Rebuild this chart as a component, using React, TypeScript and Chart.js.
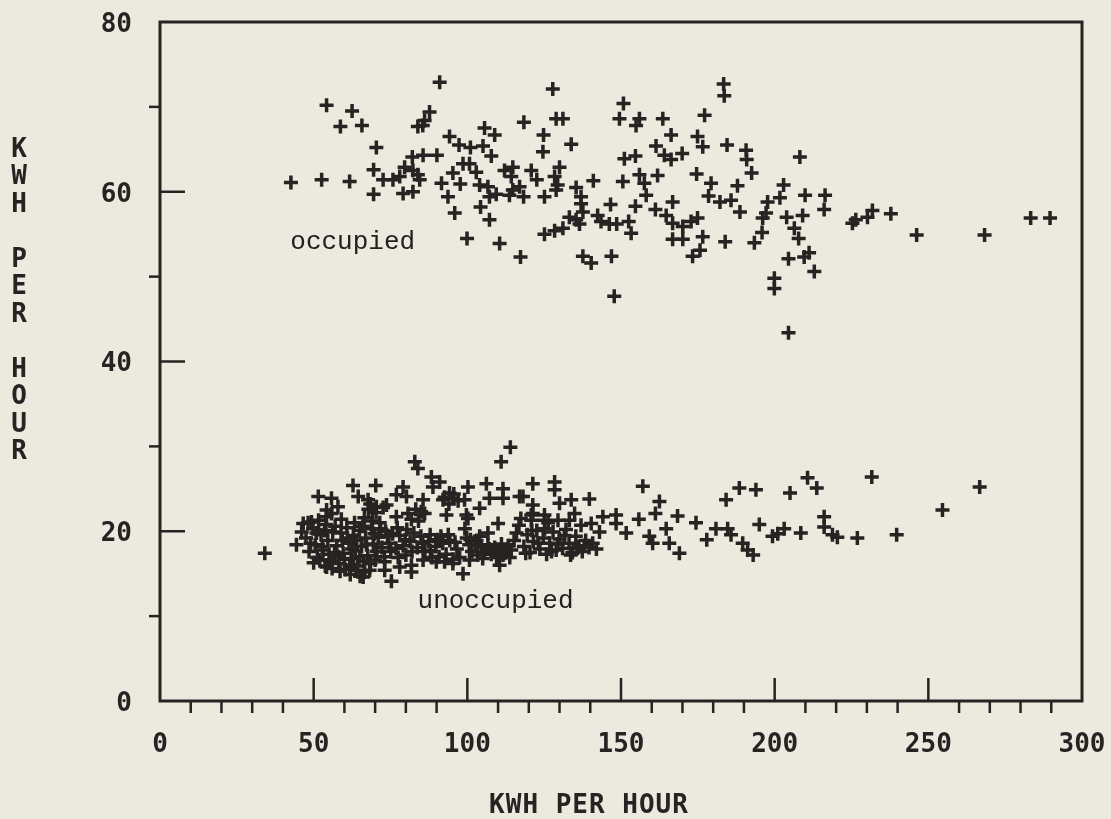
import React, { useEffect, useRef } from "react";
import { Chart, registerables } from "chart.js";

Chart.register(...registerables);

const BG = "#ECE9DF";
const INK = "#262422";

const xTickValues = [0, 50, 100, 150, 200, 250, 300];
const yTickValues = [0, 20, 40, 60, 80];
const xMinorTicks = [10, 20, 30, 40, 60, 70, 80, 90, 110, 120, 130, 140, 160, 170, 180, 190, 210, 220, 230, 240, 260, 270, 280, 290];
const xMajorTicks = [50, 100, 150, 200, 250];
const yMinorTicks = [10, 30, 50, 70];
const yMajorTicks = [20, 40, 60];

const xTitle = "KWH PER HOUR";
const yTitle = "KWH PER HOUR";

const groupLabels = ["occupied", "unoccupied"];
const groupLabelX = [42.4, 83.8];
const groupLabelY = [54.1, 11.8];

const occupied: [number, number][] = [
  [91.0, 72.9], [54.2, 70.2], [62.5, 69.5], [58.7, 67.7], [65.7, 67.8], [87.7, 69.4], [86.1, 68.4], [83.9, 67.7],
  [85.5, 67.8], [70.4, 65.2], [42.6, 61.1], [52.6, 61.4], [61.7, 61.2], [69.5, 62.6], [69.5, 59.7], [72.6, 61.4],
  [75.8, 61.4], [78.0, 61.8], [82.1, 64.1], [85.6, 64.3], [90.1, 64.3], [79.6, 62.9], [82.3, 62.5], [83.9, 62.0],
  [84.5, 61.4], [79.1, 59.8], [82.3, 60.0], [94.2, 66.5], [97.3, 65.5], [101.0, 65.2], [105.1, 65.4], [105.6, 67.5],
  [108.9, 66.7], [107.8, 64.2], [98.6, 63.3], [100.7, 63.3], [102.9, 62.3], [95.3, 62.2], [91.6, 61.0], [97.7, 60.9],
  [93.7, 59.4], [95.9, 57.5], [104.0, 60.8], [106.7, 60.6], [107.2, 59.4], [109.4, 59.7], [104.3, 58.2], [107.2, 56.7],
  [99.9, 54.5], [110.5, 53.9], [117.3, 52.3], [118.4, 68.2], [112.1, 62.5], [114.8, 62.9], [114.3, 61.8], [120.8, 62.5],
  [122.6, 61.4], [114.8, 60.2], [117.0, 60.6], [113.7, 59.6], [118.3, 59.4], [124.8, 66.7], [124.6, 64.7], [125.1, 59.4],
  [125.1, 55.0], [127.8, 72.1], [128.9, 68.6], [131.1, 68.6], [133.8, 65.6], [130.0, 62.9], [128.4, 61.8], [129.4, 60.8],
  [128.9, 60.2], [135.4, 60.5], [137.0, 59.4], [137.0, 58.6], [137.6, 57.6], [141.0, 61.3], [133.2, 57.0], [135.4, 56.7],
  [136.5, 56.2], [128.4, 55.4], [131.1, 55.7], [137.6, 52.4], [140.3, 51.6], [146.9, 52.4], [147.8, 47.7], [150.8, 70.4],
  [149.5, 68.6], [156.0, 68.6], [154.9, 67.8], [163.6, 68.6], [166.3, 66.7], [151.1, 63.9], [154.7, 64.2], [146.6, 58.5],
  [150.6, 61.2], [156.0, 62.0], [157.6, 61.0], [158.2, 59.6], [161.9, 61.9], [142.4, 57.2], [143.5, 56.5], [146.2, 56.2],
  [148.6, 56.2], [152.5, 56.5], [153.3, 55.1], [154.7, 58.3], [161.2, 57.9], [161.4, 65.4], [164.1, 64.3], [166.3, 63.8],
  [169.9, 64.5], [166.8, 58.8], [164.7, 57.2], [166.8, 56.3], [170.1, 55.9], [172.8, 56.5], [174.9, 56.9], [166.8, 54.4],
  [170.1, 54.4], [176.6, 54.7], [173.3, 52.4], [175.7, 53.1], [174.6, 62.1], [174.9, 66.5], [176.6, 65.3], [177.2, 69.0],
  [183.4, 72.7], [183.6, 71.3], [184.5, 65.5], [179.3, 61.0], [178.5, 59.5], [182.2, 58.8], [185.8, 59.0], [187.9, 60.7],
  [190.7, 64.9], [190.9, 63.8], [192.5, 62.2], [188.7, 57.6], [183.9, 54.1], [193.4, 54.0], [195.9, 55.2], [197.7, 58.8],
  [197.2, 57.5], [196.1, 56.9], [202.9, 60.8], [201.7, 59.3], [208.2, 64.1], [209.9, 59.6], [216.4, 59.6], [216.1, 57.9],
  [203.9, 57.0], [209.1, 57.2], [206.4, 55.7], [207.8, 54.5], [199.9, 49.8], [199.9, 48.6], [204.5, 52.1], [209.6, 52.3],
  [211.2, 52.8], [212.9, 50.6], [204.5, 43.4], [225.3, 56.3], [226.4, 56.7], [230.2, 57.0], [231.8, 57.8], [237.8, 57.4],
  [246.2, 54.9], [268.3, 54.9], [283.3, 56.9], [289.6, 56.9],
];

const unoccupied: [number, number][] = [
  [34.1, 17.4], [44.4, 18.4], [46.6, 20.9], [49.3, 21.1], [50.9, 19.8], [51.5, 24.1], [55.8, 23.9], [57.9, 22.9],
  [54.2, 22.5], [54.2, 21.7], [55.8, 22.1], [62.8, 25.4], [70.2, 25.4], [64.5, 24.1], [67.7, 23.7], [70.4, 22.9],
  [73.7, 23.1], [76.9, 24.3], [79.1, 25.2], [80.2, 24.1], [76.9, 21.7], [80.7, 22.1], [82.9, 28.2], [83.9, 27.4],
  [88.3, 26.4], [91.0, 25.8], [88.8, 25.2], [85.6, 23.7], [85.0, 22.3], [86.1, 22.1], [94.2, 24.5], [95.3, 23.9],
  [92.1, 23.7], [93.2, 21.9], [100.2, 25.2], [99.1, 23.7], [99.7, 21.9], [106.2, 25.6], [111.6, 25.0], [107.2, 23.9],
  [111.6, 23.9], [117.0, 24.1], [104.0, 22.7], [111.0, 28.2], [114.0, 29.9], [110.0, 20.9], [106.7, 19.8], [121.3, 25.6],
  [121.3, 23.1], [121.3, 22.1], [125.1, 21.9], [98.6, 15.0], [75.3, 14.1], [66.1, 14.6], [66.6, 15.2], [73.1, 16.4],
  [73.1, 15.4], [81.8, 15.2], [81.8, 16.0], [78.0, 15.8], [46.1, 19.9], [52.0, 16.6], [54.2, 15.8], [55.2, 16.6],
  [61.7, 15.8], [63.9, 15.4], [85.6, 16.6], [89.9, 16.4], [95.3, 16.2], [100.7, 16.6], [110.5, 16.0],
  [128.4, 25.8], [128.4, 24.9], [118.1, 24.1], [120.8, 21.9], [120.8, 21.3], [130.0, 23.3], [133.8, 23.7], [139.7, 23.8],
  [134.9, 22.1], [133.2, 21.3], [125.1, 21.3], [137.0, 20.7], [140.3, 20.9], [143.0, 19.9], [144.1, 21.7], [148.4, 21.9],
  [148.4, 20.9], [151.7, 19.8], [157.1, 25.3], [155.8, 21.4], [162.5, 23.5], [161.2, 22.1], [164.7, 20.3], [168.4, 21.8],
  [159.2, 19.4], [160.3, 18.6], [165.7, 18.6], [169.0, 17.4], [174.4, 21.0], [177.9, 19.0], [180.9, 20.3], [184.7, 20.3],
  [185.8, 19.6], [184.2, 23.7], [188.5, 25.1], [193.9, 24.9], [189.6, 18.6], [191.2, 17.8], [193.0, 17.2], [195.0, 20.8],
  [199.3, 19.4], [203.1, 20.3], [201.0, 19.7], [205.0, 24.5], [210.7, 26.3], [213.7, 25.1], [208.5, 19.8],
  [231.6, 26.4], [216.1, 21.7], [216.1, 20.5], [218.8, 19.6], [220.4, 19.3], [226.9, 19.2], [239.7, 19.6], [254.6, 22.5],
  [266.7, 25.2],
  // dense cluster
  [47.5, 19.2], [48.5, 17.6], [49.8, 20.3], [50.5, 18.4], [51.2, 16.9], [52.4, 19.6], [53.1, 17.8], [54.0, 20.8],
  [54.6, 18.9], [55.3, 16.4], [56.2, 19.9], [56.8, 17.5], [48.2, 21.0], [51.6, 21.3], [53.8, 15.9],
  [57.5, 18.3], [58.2, 16.2], [58.9, 19.8], [59.6, 17.4], [60.3, 15.5], [60.8, 20.4], [61.5, 18.6], [62.2, 16.8],
  [62.9, 19.5], [63.6, 17.7], [64.3, 15.9], [64.9, 20.1], [65.6, 18.2], [66.3, 16.5], [66.9, 19.2], [67.6, 17.1],
  [68.2, 15.4], [68.8, 20.3], [69.4, 18.5], [70.0, 16.6], [59.0, 21.4], [61.9, 14.9], [63.3, 21.0], [65.1, 14.7],
  [66.5, 21.6], [67.8, 22.6], [69.1, 21.2], [70.3, 22.2], [71.5, 21.0], [72.6, 22.8], [68.4, 23.2],
  [71.0, 19.3], [72.2, 18.1], [73.4, 20.0], [74.5, 18.6], [75.7, 19.7], [76.8, 18.0], [78.0, 19.5], [79.1, 18.3],
  [80.3, 20.2], [81.4, 18.8], [82.6, 19.8], [83.7, 18.1], [84.9, 19.4], [73.0, 17.0], [77.5, 16.9], [80.0, 17.2],
  [81.8, 21.4], [83.2, 22.6], [84.1, 21.2],
  [86.2, 17.6], [87.4, 18.8], [88.5, 16.9], [89.7, 18.2], [90.8, 17.0], [92.0, 18.6], [93.1, 17.3], [94.3, 18.9],
  [95.4, 16.7], [96.6, 17.9], [87.9, 19.6], [91.4, 19.4],
  [92.6, 24.0], [94.0, 23.2], [95.6, 24.4], [97.0, 23.6],
  [99.2, 20.3], [99.8, 19.2], [100.6, 18.4], [101.5, 17.6], [102.6, 18.5], [103.4, 17.2], [104.5, 18.2], [105.6, 17.5],
  [106.7, 18.4], [107.8, 17.3], [108.9, 18.1], [110.0, 17.6], [111.1, 18.5], [112.2, 17.4], [113.3, 18.3], [114.3, 17.8],
  [115.2, 18.9], [116.0, 19.8], [116.8, 20.7], [117.4, 21.5], [100.2, 21.5],
  [118.4, 18.2], [119.5, 19.6], [120.4, 17.5], [121.5, 18.8], [122.6, 20.1], [123.6, 17.9], [124.7, 19.2], [125.8, 17.3],
  [126.8, 18.6], [127.9, 19.9], [128.9, 17.8], [130.0, 19.1], [131.0, 18.0], [132.1, 20.2], [133.1, 18.6], [134.2, 17.5],
  [135.3, 19.4], [136.3, 18.2], [137.4, 17.6], [138.5, 18.9], [139.6, 18.1], [140.8, 18.6], [142.0, 17.9], [129.5, 21.3],
  [126.3, 21.0],
  [49.0, 18.6], [50.0, 16.3], [52.8, 18.2], [53.6, 20.1], [55.0, 17.3], [57.0, 20.6], [58.0, 17.0], [59.3, 18.9],
  [60.0, 16.7], [61.0, 19.2], [62.5, 17.9], [63.0, 16.0], [64.0, 18.9], [65.0, 17.0], [66.0, 20.6], [67.2, 18.4],
  [68.5, 16.2], [69.8, 19.7], [70.6, 17.6], [71.8, 20.3], [56.0, 15.6], [58.6, 15.3],
  [74.0, 19.5], [75.1, 17.6], [77.2, 20.4], [79.8, 19.0], [82.0, 17.6], [85.5, 18.6], [88.0, 17.7], [90.2, 19.0],
  [92.6, 16.4], [93.8, 19.6], [96.0, 18.7], [97.5, 16.9],
  [101.0, 19.0], [103.0, 18.9], [105.0, 16.8], [107.2, 17.9], [109.5, 16.9], [111.6, 17.2], [113.8, 16.9], [104.0, 19.4],
  [119.0, 17.4], [121.0, 20.1], [123.1, 18.6], [125.2, 20.3], [127.4, 17.6], [129.4, 18.5], [131.6, 19.5], [133.6, 17.2],
  [135.8, 18.0], [138.0, 18.3],
];

const framePlugin = {
  id: "frame",
  afterDatasetsDraw(chart: any) {
    const { ctx, chartArea: a, scales } = chart;
    const x = scales.x;
    const y = scales.y;
    ctx.save();
    ctx.strokeStyle = INK;
    ctx.lineWidth = 3;
    ctx.strokeRect(a.left, a.top, a.right - a.left, a.bottom - a.top);
    ctx.lineWidth = 2.5;
    const line = (x1: number, y1: number, x2: number, y2: number) => {
      ctx.beginPath();
      ctx.moveTo(x1, y1);
      ctx.lineTo(x2, y2);
      ctx.stroke();
    };
    xMajorTicks.forEach((v) => {
      const px = x.getPixelForValue(v);
      line(px, a.bottom, px, a.bottom - 23);
    });
    xMinorTicks.forEach((v) => {
      const px = x.getPixelForValue(v);
      line(px, a.bottom, px, a.bottom + 12);
    });
    yMajorTicks.forEach((v) => {
      const py = y.getPixelForValue(v);
      line(a.left, py, a.left + 25, py);
    });
    yMinorTicks.forEach((v) => {
      const py = y.getPixelForValue(v);
      line(a.left, py, a.left - 11, py);
    });

    ctx.fillStyle = INK;
    ctx.textBaseline = "middle";
    ctx.textAlign = "center";
    ctx.font = 'bold 26px "DejaVu Sans Mono"';
    yTitle.split("").forEach((ch, i) => {
      if (ch !== " ") ctx.fillText(ch, 19, 150 + 27.5 * i);
    });
    try {
      (ctx as any).letterSpacing = "1px";
    } catch (e) {}
    ctx.fillText(xTitle, 589, 806);
    try {
      (ctx as any).letterSpacing = "0px";
    } catch (e) {}

    ctx.textAlign = "left";
    ctx.fillStyle = "#232120";
    ctx.font = '26px "Liberation Mono"';
    groupLabels.forEach((t, i) => {
      ctx.fillText(t, x.getPixelForValue(groupLabelX[i]), y.getPixelForValue(groupLabelY[i]));
    });
    ctx.restore();
  },
};

export default function App() {
  const ref = useRef<HTMLCanvasElement | null>(null);
  useEffect(() => {
    document.body.style.margin = "0";
    document.body.style.background = BG;
    if (!ref.current) return;
    const pointStyle = {
      pointStyle: "cross" as const,
      pointRadius: 7,
      pointBorderWidth: 3.5,
      borderColor: INK,
      backgroundColor: INK,
      pointHoverRadius: 7,
    };
    const chart = new Chart(ref.current, {
      type: "scatter",
      data: {
        datasets: [
          { label: "occupied", data: occupied.map(([x, y]) => ({ x, y })), ...pointStyle },
          { label: "unoccupied", data: unoccupied.map(([x, y]) => ({ x, y })), ...pointStyle },
        ],
      },
      options: {
        animation: false,
        responsive: false,
        events: [],
        layout: { padding: { left: 0, top: 22, right: 29, bottom: 0 } },
        plugins: { legend: { display: false }, tooltip: { enabled: false } },
        scales: {
          x: {
            type: "linear",
            min: 0,
            max: 300,
            afterFit: (s: any) => {
              s.height = 118;
              s.paddingLeft = 0;
              s.paddingRight = 0;
            },
            afterBuildTicks: (s: any) => { s.ticks = xTickValues.map((value) => ({ value })); },
            grid: { display: false, drawTicks: false },
            border: { display: false },
            ticks: {
              color: INK,
              padding: 29,
              maxRotation: 0,
              autoSkip: false,
              font: { family: "DejaVu Sans Mono", size: 26, weight: "bold" },
              callback: (v: any) => String(v),
            },
          },
          y: {
            type: "linear",
            min: 0,
            max: 80,
            afterFit: (s: any) => {
              s.width = 160;
              s.paddingTop = 0;
              s.paddingBottom = 0;
            },
            afterBuildTicks: (s: any) => { s.ticks = yTickValues.map((value) => ({ value })); },
            grid: { display: false, drawTicks: false },
            border: { display: false },
            ticks: {
              color: INK,
              padding: 28,
              labelOffset: 3,
              autoSkip: false,
              font: { family: "DejaVu Sans Mono", size: 26, weight: "bold" },
              callback: (v: any) => String(v),
            },
          },
        },
      },
      plugins: [framePlugin],
    });
    return () => chart.destroy();
  }, []);
  return (
    <div style={{ position: "absolute", left: 0, top: 0, width: 1111, height: 819, background: BG }}>
      <canvas ref={ref} width={1111} height={819} style={{ display: "block", width: 1111, height: 819 }} />
    </div>
  );
}
